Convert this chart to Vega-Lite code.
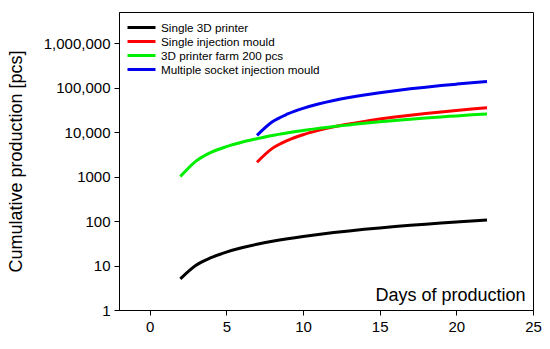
{
  "$schema": "https://vega.github.io/schema/vega-lite/v6.json",
  "width": 414,
  "height": 298,
  "autosize": {"type": "none"},
  "padding": {"left": 119, "top": 12, "right": 17, "bottom": 39},
  "config": {
    "font": "Liberation Sans",
    "view": {"stroke": "#000000", "strokeWidth": 1},
    "axis": {"grid": false, "domainColor": "#000000", "tickColor": "#000000", "labelColor": "#000000", "titleColor": "#000000", "labelFont": "Liberation Sans", "titleFont": "Liberation Sans", "titleFontWeight": "normal", "labelFontSize": 15, "titleFontSize": 18, "tickSize": 5, "labelPadding": 4}
  },
  "data": {
    "values": [
      {"series": "Single 3D printer", "day": 2, "pcs": 5},
      {"series": "Single 3D printer", "day": 3, "pcs": 10},
      {"series": "Single 3D printer", "day": 4, "pcs": 15},
      {"series": "Single 3D printer", "day": 5, "pcs": 20},
      {"series": "Single 3D printer", "day": 6, "pcs": 25},
      {"series": "Single 3D printer", "day": 7, "pcs": 30},
      {"series": "Single 3D printer", "day": 8, "pcs": 35},
      {"series": "Single 3D printer", "day": 9, "pcs": 40},
      {"series": "Single 3D printer", "day": 10, "pcs": 45},
      {"series": "Single 3D printer", "day": 11, "pcs": 50},
      {"series": "Single 3D printer", "day": 12, "pcs": 55},
      {"series": "Single 3D printer", "day": 13, "pcs": 60},
      {"series": "Single 3D printer", "day": 14, "pcs": 65},
      {"series": "Single 3D printer", "day": 15, "pcs": 70},
      {"series": "Single 3D printer", "day": 16, "pcs": 75},
      {"series": "Single 3D printer", "day": 17, "pcs": 80},
      {"series": "Single 3D printer", "day": 18, "pcs": 85},
      {"series": "Single 3D printer", "day": 19, "pcs": 90},
      {"series": "Single 3D printer", "day": 20, "pcs": 95},
      {"series": "Single 3D printer", "day": 21, "pcs": 100},
      {"series": "Single 3D printer", "day": 22, "pcs": 105},
      {"series": "Single injection mould", "day": 7, "pcs": 2100},
      {"series": "Single injection mould", "day": 8, "pcs": 4300},
      {"series": "Single injection mould", "day": 9, "pcs": 6500},
      {"series": "Single injection mould", "day": 10, "pcs": 8700},
      {"series": "Single injection mould", "day": 11, "pcs": 10900},
      {"series": "Single injection mould", "day": 12, "pcs": 13100},
      {"series": "Single injection mould", "day": 13, "pcs": 15200},
      {"series": "Single injection mould", "day": 14, "pcs": 17400},
      {"series": "Single injection mould", "day": 15, "pcs": 19600},
      {"series": "Single injection mould", "day": 16, "pcs": 21800},
      {"series": "Single injection mould", "day": 17, "pcs": 24000},
      {"series": "Single injection mould", "day": 18, "pcs": 26200},
      {"series": "Single injection mould", "day": 19, "pcs": 28400},
      {"series": "Single injection mould", "day": 20, "pcs": 30600},
      {"series": "Single injection mould", "day": 21, "pcs": 32800},
      {"series": "Single injection mould", "day": 22, "pcs": 35000},
      {"series": "3D printer farm 200 pcs", "day": 2, "pcs": 1000},
      {"series": "3D printer farm 200 pcs", "day": 3, "pcs": 2200},
      {"series": "3D printer farm 200 pcs", "day": 4, "pcs": 3500},
      {"series": "3D printer farm 200 pcs", "day": 5, "pcs": 4700},
      {"series": "3D printer farm 200 pcs", "day": 6, "pcs": 5900},
      {"series": "3D printer farm 200 pcs", "day": 7, "pcs": 7100},
      {"series": "3D printer farm 200 pcs", "day": 8, "pcs": 8400},
      {"series": "3D printer farm 200 pcs", "day": 9, "pcs": 9600},
      {"series": "3D printer farm 200 pcs", "day": 10, "pcs": 10800},
      {"series": "3D printer farm 200 pcs", "day": 11, "pcs": 12100},
      {"series": "3D printer farm 200 pcs", "day": 12, "pcs": 13300},
      {"series": "3D printer farm 200 pcs", "day": 13, "pcs": 14500},
      {"series": "3D printer farm 200 pcs", "day": 14, "pcs": 15800},
      {"series": "3D printer farm 200 pcs", "day": 15, "pcs": 17000},
      {"series": "3D printer farm 200 pcs", "day": 16, "pcs": 18200},
      {"series": "3D printer farm 200 pcs", "day": 17, "pcs": 19500},
      {"series": "3D printer farm 200 pcs", "day": 18, "pcs": 20700},
      {"series": "3D printer farm 200 pcs", "day": 19, "pcs": 21900},
      {"series": "3D printer farm 200 pcs", "day": 20, "pcs": 23100},
      {"series": "3D printer farm 200 pcs", "day": 21, "pcs": 24400},
      {"series": "3D printer farm 200 pcs", "day": 22, "pcs": 25600},
      {"series": "Multiple socket injection mould", "day": 7, "pcs": 8400},
      {"series": "Multiple socket injection mould", "day": 8, "pcs": 17000},
      {"series": "Multiple socket injection mould", "day": 9, "pcs": 25500},
      {"series": "Multiple socket injection mould", "day": 10, "pcs": 34000},
      {"series": "Multiple socket injection mould", "day": 11, "pcs": 42600},
      {"series": "Multiple socket injection mould", "day": 12, "pcs": 51100},
      {"series": "Multiple socket injection mould", "day": 13, "pcs": 59600},
      {"series": "Multiple socket injection mould", "day": 14, "pcs": 68200},
      {"series": "Multiple socket injection mould", "day": 15, "pcs": 76700},
      {"series": "Multiple socket injection mould", "day": 16, "pcs": 85300},
      {"series": "Multiple socket injection mould", "day": 17, "pcs": 93800},
      {"series": "Multiple socket injection mould", "day": 18, "pcs": 102300},
      {"series": "Multiple socket injection mould", "day": 19, "pcs": 110900},
      {"series": "Multiple socket injection mould", "day": 20, "pcs": 119400},
      {"series": "Multiple socket injection mould", "day": 21, "pcs": 128000},
      {"series": "Multiple socket injection mould", "day": 22, "pcs": 136500}
    ]
  },
  "mark": {"type": "line", "strokeWidth": 3, "interpolate": "monotone", "clip": true},
  "encoding": {
    "x": {
      "field": "day", "type": "quantitative",
      "scale": {"domain": [-2, 25], "nice": false, "zero": false},
      "axis": {"values": [0, 5, 10, 15, 20, 25], "title": "Days of production", "titleX": 406, "titleY": -10, "titleAlign": "right", "titleBaseline": "alphabetic", "labelFlush": false}
    },
    "y": {
      "field": "pcs", "type": "quantitative",
      "scale": {"type": "log", "domain": [1, 5000000], "nice": false},
      "axis": {"values": [1, 10, 100, 1000, 10000, 100000, 1000000], "title": "Cumulative production [pcs]", "titleX": -94, "labelExpr": "datum.value >= 10000 ? format(datum.value, ',') : format(datum.value, 'd')", "labelFlush": false}
    },
    "color": {
      "field": "series", "type": "nominal",
      "scale": {"domain": ["Single 3D printer", "Single injection mould", "3D printer farm 200 pcs", "Multiple socket injection mould"], "range": ["#000000", "#ff0000", "#00ee00", "#0000ee"]},
      "legend": {"title": null, "orient": "none", "legendX": 16, "legendY": 9, "symbolType": "M-2.8,0H2.8", "symbolSize": 100, "symbolStrokeWidth": 3, "symbolFillColor": "transparent", "labelFontSize": 11.7, "labelFont": "Liberation Sans", "labelColor": "#000000", "rowPadding": -4, "labelLimit": 300, "labelOffset": 13}
    }
  }
}
